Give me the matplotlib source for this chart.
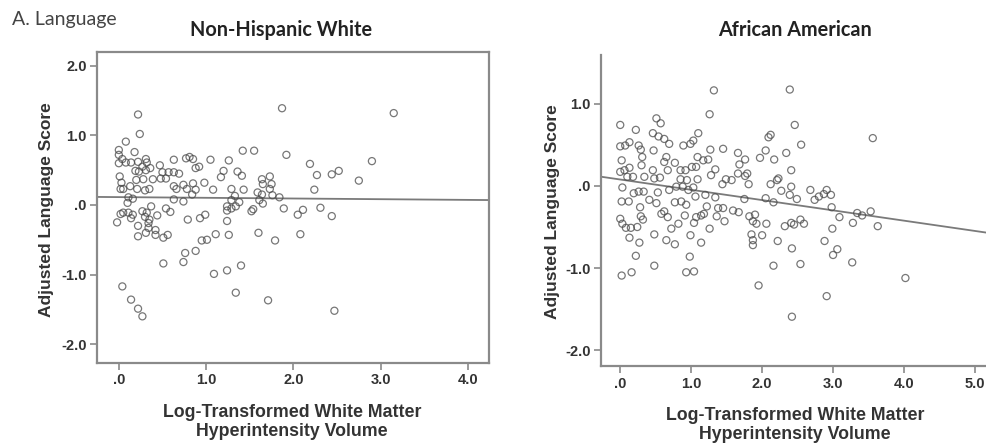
import numpy as np
import matplotlib
matplotlib.use("Agg")
import matplotlib.pyplot as plt

# Non-Hispanic White: log WMH volume vs adjusted language score
nhw_x = [0.22, 0.24, 1.87, 0.08, 0.00, 0.18, 0.00, 0.04, 0.00, 0.08, 0.14, 0.22, 0.31, 0.32,
         0.27, 0.19, 0.23, 0.31, 0.36, 0.47, 0.63, 0.77, 0.81, 0.85, 0.88, 0.92, 1.05, 1.26,
         1.42, 1.55, 1.92, 2.19, 2.27, 2.44, 2.52, 1.20, 1.17, 1.36, 1.41, 1.64, 1.73, 1.65,
         1.75, 1.73, 2.24, 0.50, 0.57, 0.63, 0.69, 0.39, 0.48, 0.54, 0.28, 0.20, 0.01, 0.03,
         0.02, 0.05, 0.13, 0.21, 0.30, 0.35, 0.63, 0.66, 0.74, 0.85, 0.98, 0.78, 0.88, 1.08,
         1.29, 1.43, 1.59, 1.64, 1.76, 1.84, 1.33, 0.63, 0.74, 0.84, 0.11, 0.16, 0.10, 1.29,
         1.38, 1.61, 1.65, 0.02, 0.05, -0.02, 0.11, 0.16, 0.14, 0.27, 0.32, 0.30, 0.35, 0.37,
         0.44, 0.54, 0.59, 0.22, 0.34, 0.22, 0.31, 0.34, 0.42, 0.42, 0.51, 0.56, 0.79, 0.93,
         0.99, 1.24, 1.24, 1.29, 1.34, 1.24, 1.52, 1.54, 1.89, 2.05, 2.11, 2.31, 2.44, 1.60,
         1.79, 2.08, 0.95, 1.01, 1.11, 1.26, 0.76, 0.88, 0.51, 0.74, 1.09, 1.24, 1.40, 1.34,
         1.71, 0.04, 0.14, 0.22, 0.27, 2.47, 3.15, 2.90, 2.75]
nhw_y = [1.30, 1.02, 1.39, 0.91, 0.79, 0.76, 0.72, 0.66, 0.60, 0.61, 0.61, 0.62, 0.66, 0.61,
         0.55, 0.49, 0.48, 0.50, 0.53, 0.57, 0.65, 0.67, 0.69, 0.66, 0.53, 0.55, 0.65, 0.64,
         0.78, 0.78, 0.72, 0.59, 0.43, 0.44, 0.49, 0.49, 0.40, 0.48, 0.42, 0.37, 0.41, 0.30,
         0.30, 0.23, 0.22, 0.47, 0.47, 0.47, 0.45, 0.37, 0.38, 0.38, 0.37, 0.36, 0.41, 0.32,
         0.23, 0.23, 0.27, 0.23, 0.21, 0.23, 0.27, 0.23, 0.29, 0.31, 0.32, 0.23, 0.22, 0.22,
         0.23, 0.22, 0.18, 0.15, 0.14, 0.11, 0.13, 0.08, 0.05, 0.15, 0.11, 0.09, 0.03, 0.07,
         0.04, 0.07, 0.02, -0.13, -0.11, -0.25, -0.11, -0.14, -0.19, -0.09, -0.11, -0.17, -0.21, -0.02,
         -0.15, -0.05, -0.10, -0.30, -0.26, -0.45, -0.40, -0.33, -0.36, -0.43, -0.47, -0.43, -0.21, -0.19,
         -0.14, -0.02, -0.08, -0.05, -0.02, -0.23, -0.09, -0.06, -0.05, -0.14, -0.07, -0.04, -0.16, -0.40,
         -0.51, -0.42, -0.51, -0.50, -0.42, -0.43, -0.69, -0.66, -0.84, -0.82, -0.99, -0.94, -0.87, -1.26,
         -1.37, -1.17, -1.36, -1.49, -1.60, -1.52, 1.32, 0.63, 0.35]

# African American
aa_x = [1.32, 2.39, 1.26, 0.00, 0.51, 0.57, 0.22, 2.46, 3.56, 0.46, 0.54, 0.62, 0.69, 1.10,
        1.03, 0.99, 0.89, 2.12, 2.09, 2.55, 0.00, 0.07, 0.13, 0.26, 0.29, 0.47, 0.31, 0.65,
        0.62, 0.77, 1.09, 1.17, 1.24, 1.27, 1.45, 1.66, 1.68, 1.76, 1.97, 2.05, 2.17, 2.34,
        2.41, 0.02, 0.00, 0.06, 0.13, 0.10, 0.18, 0.30, 0.34, 0.46, 0.48, 0.56, 0.67, 0.85,
        0.92, 1.01, 1.07, 0.85, 0.94, 1.09, 1.28, 1.34, 1.44, 1.49, 1.57, 1.66, 1.76, 1.79,
        1.81, 2.12, 2.21, 2.23, 2.27, 2.41, 2.39, 2.49, 2.68, 2.74, 2.80, 2.87, 2.91, 2.97,
        0.03, 0.19, 0.26, 0.33, 0.02, 0.12, 0.41, 0.53, 0.69, 0.79, 0.88, 0.96, 1.03, 1.06,
        1.20, 1.34, 0.28, 0.51, 0.77, 0.86, 0.93, 0.62, 0.58, 1.22, 1.38, 1.45, 1.59, 1.67,
        1.75, 2.05, 2.16, 2.98, 3.09, 3.34, 3.41, 3.53, 3.28, 3.63, 0.00, 0.03, 0.08, 0.15,
        0.24, 0.32, 0.29, 0.67, 0.82, 0.91, 1.04, 1.07, 1.14, 1.18, 1.26, 1.36, 1.47, 1.82,
        1.90, 1.87, 1.92, 2.06, 2.32, 2.41, 2.45, 2.54, 2.59, 2.99, 0.13, 0.48, 0.27, 0.65,
        0.77, 0.72, 0.99, 1.14, 1.85, 1.87, 1.87, 2.00, 2.22, 2.42, 2.88, 3.06, 3.00, 0.22,
        0.98, 0.48, 0.02, 0.16, 0.93, 1.04, 2.16, 2.54, 3.27, 1.95, 2.91, 2.42, 4.02]
aa_y = [1.16, 1.17, 0.87, 0.74, 0.82, 0.76, 0.68, 0.74, 0.58, 0.64, 0.60, 0.57, 0.51, 0.64,
        0.55, 0.51, 0.49, 0.62, 0.59, 0.50, 0.48, 0.49, 0.53, 0.49, 0.44, 0.43, 0.35, 0.35,
        0.29, 0.28, 0.35, 0.31, 0.32, 0.44, 0.45, 0.40, 0.26, 0.32, 0.34, 0.43, 0.32, 0.40,
        0.19, 0.31, 0.17, 0.19, 0.22, 0.11, 0.11, 0.25, 0.11, 0.19, 0.09, 0.10, 0.19, 0.19,
        0.19, 0.23, 0.23, 0.08, 0.07, 0.08, 0.13, 0.20, 0.02, 0.08, 0.07, 0.15, 0.12, 0.15,
        0.02, 0.02, 0.07, 0.09, -0.06, -0.01, -0.11, -0.16, -0.05, -0.17, -0.13, -0.10, -0.05, -0.11,
        -0.02, -0.09, -0.07, -0.07, -0.19, -0.19, -0.17, -0.08, -0.05, -0.01, -0.01, -0.05, -0.02, -0.13,
        -0.11, -0.14, -0.26, -0.21, -0.20, -0.19, -0.23, -0.31, -0.34, -0.25, -0.27, -0.27, -0.30, -0.32,
        -0.16, -0.15, -0.20, -0.26, -0.38, -0.33, -0.36, -0.31, -0.45, -0.49, -0.40, -0.46, -0.51, -0.51,
        -0.50, -0.41, -0.37, -0.38, -0.46, -0.36, -0.45, -0.38, -0.36, -0.34, -0.52, -0.37, -0.43, -0.37,
        -0.35, -0.43, -0.46, -0.46, -0.49, -0.45, -0.47, -0.41, -0.46, -0.52, -0.63, -0.59, -0.69, -0.66,
        -0.71, -0.52, -0.60, -0.69, -0.59, -0.66, -0.72, -0.60, -0.67, -0.76, -0.67, -0.77, -0.84, -0.85,
        -0.86, -0.97, -1.09, -1.05, -1.05, -1.04, -0.97, -0.95, -0.93, -1.21, -1.34, -1.59, -1.12]

# fit lines (intercept, slope)
nhw_fit = (0.113, -0.010)
aa_fit = (0.077, -0.125)

nhw_xticks = [0, 1, 2, 3, 4]
nhw_yticks = [-2, -1, 0, 1, 2]
aa_xticks = [0, 1, 2, 3, 4, 5]
aa_yticks = [-2, -1, 0, 1]


def lab(v):
    return ".0" if v == 0 else "{:.1f}".format(v)


AX_FONT = ["Liberation Sans Narrow", "Liberation Sans", "DejaVu Sans"]
TITLE_FONT = ["Lato", "DejaVu Sans"]
SPINE = "#8a8a8a"
TXT = "#333333"


def style_axes(ax, xlim, ylim, xticks, yticks, box):
    ax.set_xlim(*xlim)
    ax.set_ylim(*ylim)
    ax.set_xticks(xticks)
    ax.set_yticks(yticks)
    ax.set_xticklabels([lab(v) for v in xticks])
    ax.set_yticklabels([lab(v) for v in yticks])
    for t in ax.get_xticklabels() + ax.get_yticklabels():
        t.set_family(AX_FONT)
        t.set_fontweight("bold")
        t.set_fontsize(10.5)
        t.set_color(TXT)
    ax.tick_params(direction="out", length=5, width=1.2, color=SPINE, pad=2.5)
    for name, sp in ax.spines.items():
        sp.set_color(SPINE)
        sp.set_linewidth(1.6)
    if not box:
        ax.spines["top"].set_visible(False)
        ax.spines["right"].set_visible(False)


def draw_panel(ax, xs, ys, fit, xlim):
    ax.scatter(xs, ys, s=26, facecolors="none", edgecolors="#4a4a4a",
               linewidths=0.9, alpha=0.75, zorder=3)
    lx = np.array(xlim)
    ax.plot(lx, fit[0] + fit[1] * lx, color="#7a7a7a", lw=1.3, zorder=2)


fig = plt.figure(figsize=(9.87, 4.47), dpi=100)

ax1 = fig.add_axes([0.0983, 0.188, 0.397, 0.696])
xl1 = (-0.25, 4.24)
draw_panel(ax1, nhw_x, nhw_y, nhw_fit, xl1)
style_axes(ax1, xl1, (-2.27, 2.2), nhw_xticks, nhw_yticks, True)

ax2 = fig.add_axes([0.609, 0.181, 0.391, 0.696])
xl2 = (-0.27, 5.17)
draw_panel(ax2, aa_x, aa_y, aa_fit, xl2)
style_axes(ax2, xl2, (-2.19, 1.59), aa_xticks, aa_yticks, False)

# titles and labels
fig.text(12 / 987, 1 - 20 / 447, "A. Language", family=TITLE_FONT, fontsize=14,
         color="#444444", va="center", ha="left")
fig.text(281 / 987, 1 - 30 / 447, "Non-Hispanic White", family=TITLE_FONT, fontsize=14.3,
         fontweight="bold", color="#222222", va="center", ha="center")
fig.text(795 / 987, 1 - 30 / 447, "African American", family=TITLE_FONT, fontsize=14.3,
         fontweight="bold", color="#222222", va="center", ha="center")

xlab = "Log-Transformed White Matter\nHyperintensity Volume"
fig.text(292 / 987, 1 - 422 / 447, xlab, family=AX_FONT, fontsize=12.8, fontweight="bold",
         color=TXT, ha="center", va="center", linespacing=1.15)
fig.text(795 / 987, 1 - 425 / 447, xlab, family=AX_FONT, fontsize=12.8, fontweight="bold",
         color=TXT, ha="center", va="center", linespacing=1.15)

ylab = "Adjusted Language Score"
fig.text(47 / 987, 1 - 210 / 447, ylab, family=AX_FONT, fontsize=12.5, fontweight="bold",
         color=TXT, ha="center", va="center", rotation=90)
fig.text(553 / 987, 1 - 212 / 447, ylab, family=AX_FONT, fontsize=12.5, fontweight="bold",
         color=TXT, ha="center", va="center", rotation=90)

fig.savefig("out.png", dpi=100)
